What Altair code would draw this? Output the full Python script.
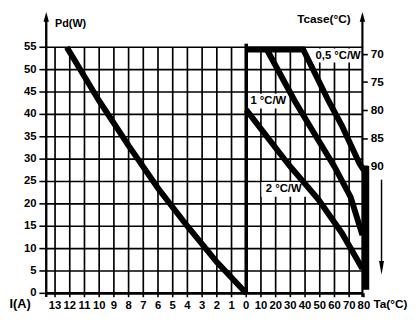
import altair as alt
import pandas as pd

# ---------------- data ----------------
# left panel: dissipated power Pd (W) vs output current I (A)
current_a = [12.2, 10, 8, 6, 4, 2, 0]
pd_vs_current = [55, 43, 33, 23.5, 15, 7, 0]

# right panel: Pd (W) vs ambient temperature Ta (degC) for three heatsinks
ta_05 = [0, 38.7, 56, 65, 77, 80]
pd_05 = [54.5, 54.5, 43, 37.5, 29, 27.5]
ta_1 = [14, 33, 43, 60, 71, 79]
pd_1 = [54.5, 43, 37.5, 28.3, 21.5, 13]
ta_2 = [0, 29, 49, 65, 79]
pd_2 = [41, 28.7, 21, 13.5, 5.5]

# converging limit bar at the right edge (Ta, Pd range)
limit_ta = [81.3]
limit_pd = [0.8, 28.5]

# tick labels
pd_ticks = list(range(0, 56, 5))
i_ticks = list(range(13, 0, -1))
ta_ticks = list(range(10, 81, 10))
tcase_ticks = [70, 75, 80, 85, 90]
curve_names = ["0,5 °C/W", "1 °C/W", "2 °C/W"]

# ---------------- layout / scales ----------------
W, H = 408, 306
PXU, X0 = 15.0, 243.0          # px per unit of the shared x axis, px of u = 0
PXW, Y0 = 251 / 55, 288.0      # px per watt, px of Pd = 0
xs = alt.Scale(domain=[-X0 / PXU, (W - X0) / PXU], nice=False, zero=False)
ys = alt.Scale(domain=[(Y0 - H) / PXW, Y0 / PXW], nice=False, zero=False)
U_L, U_R = -13.6, 7.9          # left and right axis lines
FONT = "Liberation Sans"


def X(f):
    return alt.X(f, type="quantitative", scale=xs, axis=None)


def X2(f):
    return alt.X2(f)


def Y(f):
    return alt.Y(f, type="quantitative", scale=ys, axis=None)


# shared x coordinate u: -I on the left, Ta/10 on the right
rows = []
for k, (a, p) in enumerate(zip(current_a, pd_vs_current)):
    rows.append({"curve": "I", "o": k, "u": -a, "pd": p})
for name, tas, pds in [("0.5", ta_05, pd_05), ("1", ta_1, pd_1), ("2", ta_2, pd_2)]:
    for k, (t, p) in enumerate(zip(tas, pds)):
        rows.append({"curve": name, "o": k, "u": t / 10, "pd": p})
curves_df = pd.DataFrame(rows)

gh = pd.DataFrame({"pd": pd_ticks[1:], "x1": U_L, "x2": U_R})
gv = pd.DataFrame({"u": [-i for i in i_ticks] + [t / 10 for t in ta_ticks[:-1]],
                   "y1": 0, "y2": 55})

grid_h = alt.Chart(gh).mark_rule(color="black", strokeWidth=1.7).encode(
    y=Y("pd"), x=X("x1"), x2=X2("x2"))
grid_v = alt.Chart(gv).mark_rule(color="black", strokeWidth=1.7).encode(
    x=X("u"), y=Y("y1"), y2=alt.Y2("y2"))

frame_df = pd.DataFrame([
    {"x1": U_L, "x2": U_R, "y1": 0, "y2": 0, "w": 2.8},        # base line
    {"x1": U_L, "x2": U_L, "y1": -0.8, "y2": 61.0, "w": 2.4},  # left axis
    {"x1": U_R, "x2": U_R, "y1": -0.8, "y2": 61.0, "w": 2.2},  # right axis
    {"x1": 0, "x2": 0, "y1": 0, "y2": 55.8, "w": 3.6},        # divider
])
frame = alt.Chart(frame_df).mark_rule(color="black").encode(
    x=X("x1"), x2=X2("x2"), y=Y("y1"), y2=alt.Y2("y2"),
    strokeWidth=alt.StrokeWidth("w:Q", scale=None))

up_arrows = alt.Chart(pd.DataFrame({"u": [U_L, U_R], "pd": 61.8})).mark_point(
    shape="M0,-1L0.55,1L-0.55,1Z", size=100, filled=True, color="black", opacity=1
).encode(x=X("u"), y=Y("pd"))

# ---- left axis ticks and labels ----
lt = pd.DataFrame({"pd": pd_ticks, "x1": U_L - 7 / PXU, "x2": U_L,
                   "lab": [str(v) for v in pd_ticks]})
left_ticks = alt.Chart(lt).mark_rule(color="black", strokeWidth=1.6).encode(
    y=Y("pd"), x=X("x1"), x2=X2("x2"))
left_labels = alt.Chart(lt).mark_text(
    font=FONT, fontWeight="bold", fontSize=11.5, color="black", align="right",
    baseline="middle", dx=-3
).encode(x=X("x1"), y=Y("pd"), text="lab:N")

# ---- bottom axis ticks and labels ----
bu = [-i for i in i_ticks] + [0] + [t / 10 for t in ta_ticks]
blab = [str(i) for i in i_ticks] + ["0"] + [str(t) for t in ta_ticks]
bt = pd.DataFrame({"u": bu, "lab": blab, "y1": 0, "y2": -4 / PXW})
bottom_ticks = alt.Chart(bt).mark_rule(color="black", strokeWidth=1.6).encode(
    x=X("u"), y=Y("y1"), y2=alt.Y2("y2"))
bottom_labels = alt.Chart(bt).mark_text(
    font=FONT, fontWeight="bold", fontSize=11.5, color="black", align="center",
    baseline="top", dy=2.5
).encode(x=X("u"), y=Y("y2"), text="lab:N")

# label boxes (white) and labels
lab_df = pd.DataFrame({
    "t": curve_names,
    "u": [6.25, 1.5, 2.55], "pd": [53.1, 42.95, 23.2],
    "bx1": [4.5, 0.13, 1.03], "bx2": [7.8, 2.87, 4.07],
    "by1": [51.6, 41.3, 21.6], "by2": [54.7, 44.6, 24.9],
})
boxes = alt.Chart(lab_df).mark_rect(color="white").encode(
    x=X("bx1"), x2=X2("bx2"), y=Y("by1"), y2=alt.Y2("by2"))
labels = alt.Chart(lab_df).mark_text(
    font=FONT, fontWeight="bold", fontSize=11.5, color="black", baseline="middle"
).encode(x=X("u"), y=Y("pd"), text="t:N")

curves = alt.Chart(curves_df).mark_line(
    color="black", strokeWidth=6, strokeJoin="miter", strokeCap="butt"
).encode(x=X("u"), y=Y("pd"), detail="curve:N", order="o:Q")

bar_df = pd.DataFrame({"u": [limit_ta[0] / 10], "y1": [limit_pd[0]], "y2": [limit_pd[1]]})
bar = alt.Chart(bar_df).mark_rule(color="black", strokeWidth=7).encode(
    x=X("u"), y=Y("y1"), y2=alt.Y2("y2"))

arrow_df = pd.DataFrame({"u": [9.2], "y1": [25.4], "y2": [7.0]})
down_line = alt.Chart(arrow_df).mark_rule(color="black", strokeWidth=1.5).encode(
    x=X("u"), y=Y("y1"), y2=alt.Y2("y2"))
down_head = alt.Chart(pd.DataFrame({"u": [9.2], "pd": [5.7]})).mark_point(
    shape="M0,1L0.36,-1L-0.36,-1Z", size=196, filled=True, color="black", opacity=1
).encode(x=X("u"), y=Y("pd"))

titles_df = pd.DataFrame([
    {"t": "Pd(W)", "u": -13.0, "pd": 60.2, "a": "left", "s": 11},
    {"t": "Tcase(°C)", "u": 7.1, "pd": 61.2, "a": "right", "s": 12},
    {"t": "I(A)", "u": -16.1, "pd": -2.5, "a": "left", "s": 13},
    {"t": "Ta(°C)", "u": 8.65, "pd": -2.5, "a": "left", "s": 12},
])
title_layers = []
for _, r in titles_df.iterrows():
    title_layers.append(
        alt.Chart(pd.DataFrame([r])).mark_text(
            font=FONT, fontWeight="bold", fontSize=int(r["s"]), color="black",
            align=r["a"], baseline="middle"
        ).encode(x=X("u"), y=Y("pd"), text="t:N"))

main = alt.layer(grid_h, grid_v, boxes, frame, up_arrows, left_ticks, left_labels,
                 bottom_ticks, bottom_labels, curves, bar, down_line,
                 down_head, labels, *title_layers)

# right axis: case temperature
axis_common = dict(domain=False, grid=False, title=None, ticks=True,
                   tickColor="black", tickWidth=1.6, labelColor="black",
                   labelFont=FONT, labelFontWeight="bold", labelFontSize=12,
                   labelOverlap=False, labelBound=False, labelFlush=False)
TC_PX, TC_Y70 = 5.72, 43.7
tcase_scale = alt.Scale(domain=[70 - TC_Y70 / TC_PX, 70 + (H - TC_Y70) / TC_PX],
                        reverse=True, nice=False, zero=False)
tcase_layer = alt.Chart(pd.DataFrame({"u": [0], "t": [80]})).mark_point(opacity=0).encode(
    x=X("u"),
    y=alt.Y("t:Q", scale=tcase_scale, axis=alt.Axis(
        orient="right", values=tcase_ticks, offset=-(W - (X0 + U_R * PXU)),
        tickSize=5, labelPadding=3, **axis_common)),
)

chart = alt.layer(main, tcase_layer).resolve_scale(y="independent").properties(
    width=W, height=H, autosize=alt.AutoSizeParams(type="none"), padding=0,
    background="white",
).configure_view(stroke=None)

chart.save("out.html", embed_options={"renderer": "svg", "actions": False})
